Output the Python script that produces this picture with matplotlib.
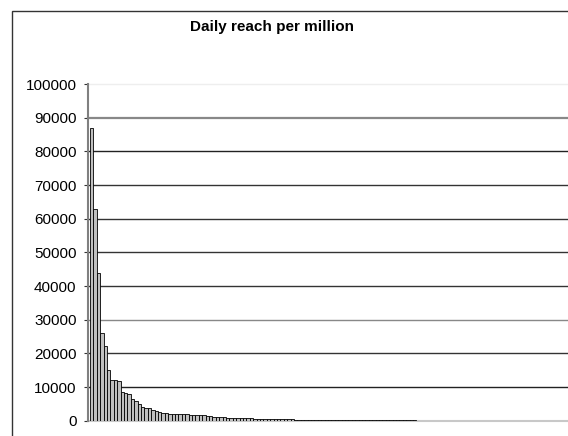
import numpy as np
import matplotlib
matplotlib.use('Agg')
import matplotlib.pyplot as plt
from matplotlib.patches import Rectangle

plt.rcParams['font.family'] = ['Liberation Sans', 'DejaVu Sans']

# daily reach per million, sites sorted by rank
reach = [87000, 62800, 44000, 26000, 22200, 15200, 12000, 12000, 11900, 8500,
         8400, 8100, 6500, 5900, 4900, 4100, 3900, 3800, 3300, 3000,
         2600, 2400, 2200, 2100, 2000, 2000, 2000, 1950, 1900, 1750,
         1700, 1700, 1650, 1600, 1350, 1300, 1250, 1050, 1000, 1000,
         950, 950, 900, 900, 750, 700, 700, 700, 680, 650,
         650, 650, 620, 600, 480, 450, 430, 420, 400, 400,
         380, 370, 360, 340, 330, 330, 320, 310, 300, 300,
         290, 280, 280, 270, 260, 260, 250, 250, 240, 240,
         230, 230, 220, 220, 210, 210, 200, 200, 200, 190,
         190, 190, 180, 180, 180, 170]
yticks = list(range(0, 100001, 10000))
title = 'Daily reach per million'

W, H = 568, 436
fig = plt.figure(figsize=(W / 100, H / 100), dpi=100)

# chart border
fig.add_artist(Rectangle((11.5 / W, -0.1), 1.2, 1.1 - 11.5 / H, transform=fig.transFigure,
                         fill=False, edgecolor='#333333', linewidth=1.0))

fig.text(272.5 / W, 1 - 26.5 / H, title, ha='center', va='center',
         fontsize=11, fontweight='bold')

ax = fig.add_axes([87.7 / W, (H - 420.8) / H, 1 - 87.7 / W, (420.8 - 84) / H])

grid_colors = ['#c8c8c8', '#222222', '#333333', '#888888', '#333333', '#333333',
               '#333333', '#333333', '#222222', '#888888', '#eeeeee']
grid_widths = [1.5, 1.0, 1.0, 1.0, 1.0, 1.0, 1.0, 1.0, 1.0, 1.6, 1.0]
for t, c, lw in zip(yticks, grid_colors, grid_widths):
    ax.axhline(t, color=c, linewidth=lw, zorder=0, clip_on=False)

x = np.arange(len(reach))
ax.bar(x, reach, width=1.0, color='#c0c0c0', edgecolor='black', linewidth=0.6, zorder=2)

ax.set_xlim(-1.18, -1.18 + (W - 87.7) / 3.4)
ax.set_ylim(0, 100000)
ax.set_yticks(yticks)
ax.set_yticklabels([str(t) for t in yticks], fontsize=11)
ax.tick_params(axis='y', length=3, width=0.8, color='#333333', pad=5)
ax.set_xticks([])

for s in ['top', 'right', 'bottom']:
    ax.spines[s].set_visible(False)
ax.spines['left'].set_color('#808080')
ax.spines['left'].set_linewidth(1.5)

fig.savefig('out.png', dpi=100)
